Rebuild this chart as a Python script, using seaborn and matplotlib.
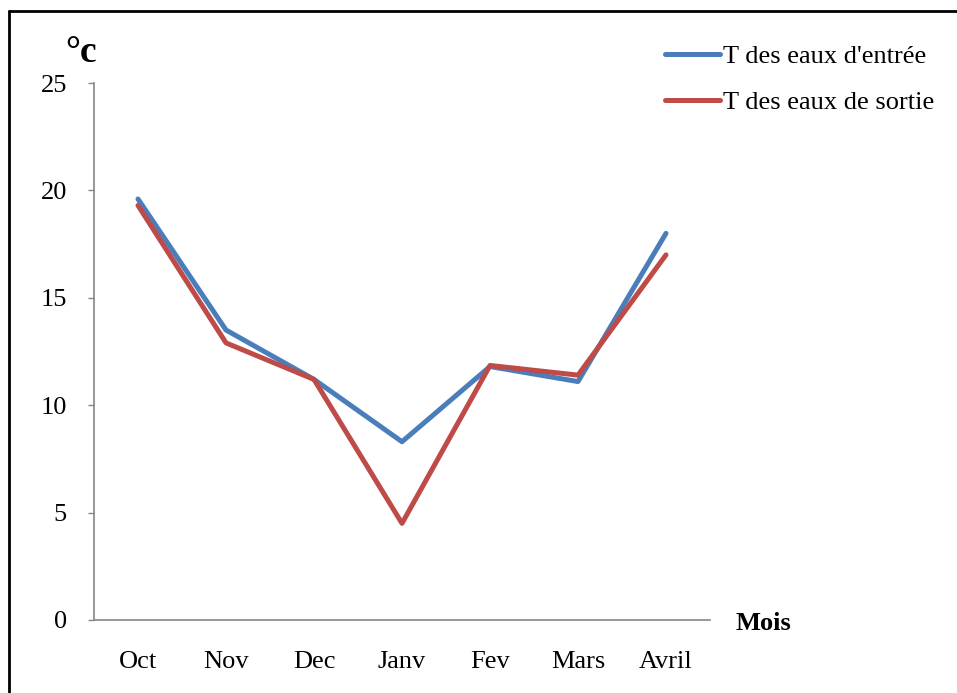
import matplotlib
matplotlib.use("Agg")
import matplotlib.pyplot as plt
from matplotlib.lines import Line2D
import seaborn as sns
import pandas as pd
import numpy as np

months = ["Oct", "Nov", "Dec", "Janv", "Fev", "Mars", "Avril"]
t_entree = [19.6, 13.5, 11.2, 8.3, 11.8, 11.1, 18.0]
t_sortie = [19.3, 12.9, 11.2, 4.5, 11.85, 11.4, 17.0]
series_names = ["T des eaux d'entrée", "T des eaux de sortie"]
colors = ["#4A7EBB", "#BE4B48"]
yticks = [0, 5, 10, 15, 20, 25]

df = pd.DataFrame({
    "idx": list(range(len(months))) * 2,
    "val": t_entree + t_sortie,
    "serie": [series_names[0]] * len(months) + [series_names[1]] * len(months),
})

sns.set_style("white")
plt.rcParams["font.family"] = ["Liberation Serif", "DejaVu Serif"]
plt.rcParams["text.color"] = "black"
plt.rcParams["xtick.color"] = "black"
plt.rcParams["ytick.color"] = "black"

FS = 19
LW = 3.6

fig = plt.figure(figsize=(9.57, 6.93), dpi=100)
ax = fig.add_axes([94/957, 1-620/693, (710-94)/957, (620-83)/693])

sns.lineplot(data=df, x="idx", y="val", hue="serie", palette=colors,
             linewidth=LW, ax=ax, legend=False, sort=False)

ax.set_xlim(-0.5, len(months) - 0.5)
ax.set_ylim(0, 25)
ax.set_yticks(yticks)
ax.set_yticklabels([str(v) for v in yticks], fontsize=FS)
ax.set_xticks(range(len(months)))
ax.set_xticklabels(months, fontsize=FS)
ax.set_xticks(np.arange(-0.5, len(months), 1.0), minor=True)
ax.tick_params(axis="x", which="major", length=0, pad=22, labelcolor="black")
ax.tick_params(axis="x", which="minor", length=4.5, width=1, color="#868686", direction="out")
ax.tick_params(axis="y", which="major", length=4.5, width=1, color="#868686", direction="out",
               pad=15, left=True, labelcolor="black")
ax.set_xlabel("")
ax.set_ylabel("")
for s in ["top", "right"]:
    ax.spines[s].set_visible(False)
for s in ["left", "bottom"]:
    ax.spines[s].set_color("#868686")
    ax.spines[s].set_linewidth(1.2)

fig.text(81/957, 1-52/693, "°c", fontsize=27, fontweight="bold", ha="center", va="center", color="black")
fig.text(735/957, 1-623/693, "Mois", fontsize=FS, fontweight="bold", ha="left", va="center", color="black")

handles = [Line2D([0], [0], color=c, lw=LW) for c in colors]
fig.legend(handles, series_names, loc="upper left", bbox_to_anchor=(665/957, 1-45/693),
           frameon=False, fontsize=FS, handlelength=2.1, handletextpad=0.08,
           labelspacing=0.85, borderaxespad=0, borderpad=0)

# chart area border (only top and left visible in crop)
fig.add_artist(Line2D([9/957, 9/957], [0, 1-11/693], color="black", lw=2, transform=fig.transFigure))
fig.add_artist(Line2D([9/957, 1], [1-11/693, 1-11/693], color="black", lw=2, transform=fig.transFigure))

fig.savefig("out.png", dpi=100, facecolor="white")
